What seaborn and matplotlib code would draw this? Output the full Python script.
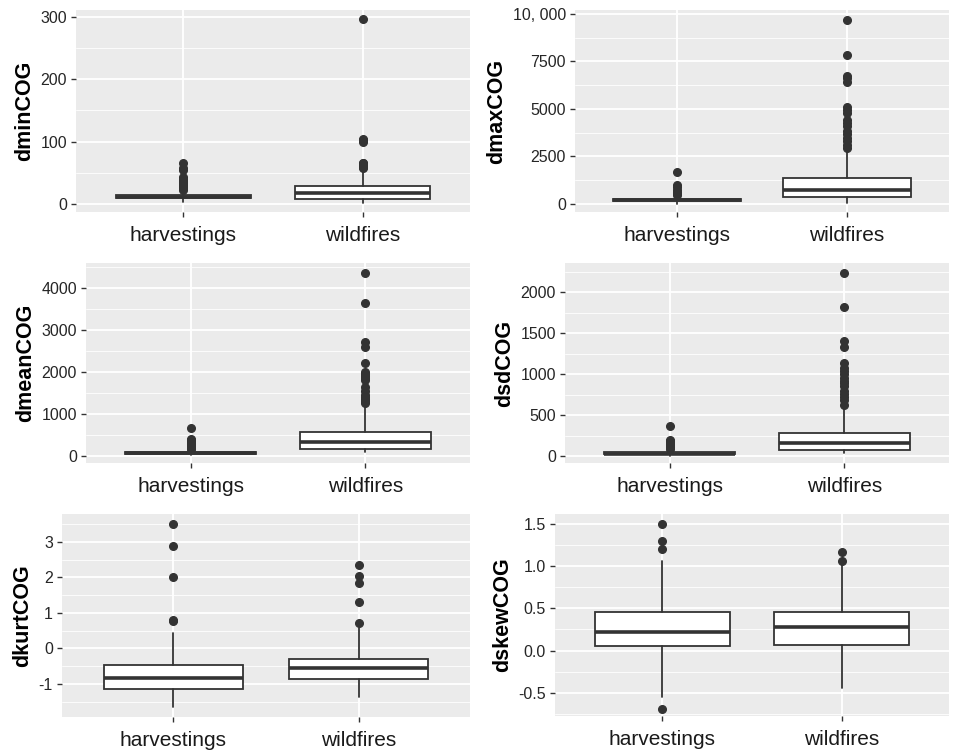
import numpy as np
import seaborn as sns
import matplotlib
matplotlib.use("Agg")
import matplotlib.pyplot as plt
from matplotlib.ticker import FixedLocator

# ---- data (box statistics per variable, [harvestings, wildfires]) ----
groups = ["harvestings", "wildfires"]
variables = ["dminCOG", "dmaxCOG", "dmeanCOG", "dsdCOG", "dkurtCOG", "dskewCOG"]

whis_lo = [[3, 1], [20, 30], [5, 95], [2, 40], [-1.65, -1.38], [-0.555, -0.45]]
q1 = [[9, 8], [150, 350], [40, 152], [20, 70], [-1.14, -0.87], [0.055, 0.066]]
median = [[12, 18], [210, 735], [60, 333], [30, 162], [-0.845, -0.56], [0.22, 0.284]]
q3 = [[15, 29], [260, 1350], [80, 571], [45, 284], [-0.48, -0.29], [0.455, 0.455]]
whis_hi = [[20, 55], [420, 2850], [140, 1167], [80, 600], [0.44, 0.56], [1.06, 1.02]]

fliers = [
    [[23, 25, 27, 29, 31, 33, 35, 37, 40, 43, 55, 57, 66],
     [57, 59, 61, 63, 65, 66, 100, 103, 105, 296]],
    [[500, 560, 650, 750, 900, 1000, 1700],
     [2950, 3100, 3300, 3450, 3700, 3850, 4100, 4250, 4400, 4800, 4950, 5100,
      6400, 6650, 6750, 7850, 9700]],
    [[150, 190, 220, 250, 280, 310, 340, 370, 400, 650],
     [1250, 1300, 1350, 1400, 1450, 1550, 1650, 1800, 1850, 1900, 1950, 2000,
      2200, 2600, 2700, 3650, 4350]],
    [[90, 110, 130, 150, 170, 185, 200, 365],
     [620, 680, 720, 760, 800, 850, 890, 920, 950, 1000, 1040, 1080, 1140,
      1330, 1410, 1820, 2240]],
    [[0.76, 0.8, 2.0, 2.88, 3.5],
     [0.7, 1.3, 1.85, 2.05, 2.35]],
    [[-0.69, 1.2, 1.3, 1.5],
     [1.06, 1.17]],
]

y_ticks = [[0, 100, 200, 300], [0, 2500, 5000, 7500, 10000], [0, 1000, 2000, 3000, 4000],
           [0, 500, 1000, 1500, 2000], [-1, 0, 1, 2, 3], [-0.5, 0.0, 0.5, 1.0, 1.5]]
y_tick_labels = [["0", "100", "200", "300"], ["0", "2500", "5000", "7500", "10, 000"],
                 ["0", "1000", "2000", "3000", "4000"], ["0", "500", "1000", "1500", "2000"],
                 ["-1", "0", "1", "2", "3"], ["-0.5", "0.0", "0.5", "1.0", "1.5"]]
y_lims = [(-12.8, 311), (-421, 10210), (-174, 4595), (-85, 2357), (-1.93, 3.78), (-0.777, 1.62)]

# panel rectangles in pixels (x0, y0, x1, y1) measured on the 958x751 reference
panel_px = [(76, 10, 470, 212), (575, 10, 949, 212),
            (86, 263, 470, 463), (565, 263, 949, 463),
            (62, 514, 470, 717), (555, 514, 949, 716)]

W, H = 958, 751

sns.set_theme(style="darkgrid", rc={
    "axes.facecolor": "#EBEBEB",
    "grid.color": "white",
    "figure.facecolor": "white",
})
plt.rcParams["font.family"] = ["Liberation Sans", "DejaVu Sans"]

fig = plt.figure(figsize=(W / 100, H / 100), dpi=100)
dark = "#333333"

for i, var in enumerate(variables):
    x0, y0, x1, y1 = panel_px[i]
    ax = fig.add_axes([x0 / W, 1 - y1 / H, (x1 - x0) / W, (y1 - y0) / H])

    stats = []
    for g in range(len(groups)):
        stats.append(dict(med=median[i][g], q1=q1[i][g], q3=q3[i][g],
                          whislo=whis_lo[i][g], whishi=whis_hi[i][g],
                          fliers=fliers[i][g], label=groups[g]))
    ax.bxp(stats, positions=[1, 2], widths=0.75, showcaps=False, patch_artist=True,
           boxprops=dict(facecolor="white", edgecolor=dark, linewidth=1.3),
           medianprops=dict(color=dark, linewidth=2.6),
           whiskerprops=dict(color=dark, linewidth=1.3),
           flierprops=dict(marker="o", markerfacecolor=dark, markeredgecolor=dark,
                           markersize=5.5, linestyle="none"),
           zorder=3)

    ax.set_xlim(0.4, 2.6)
    ax.set_ylim(*y_lims[i])
    ticks = y_ticks[i]
    ax.set_yticks(ticks)
    ax.set_yticklabels(y_tick_labels[i])
    step = ticks[1] - ticks[0]
    minors = np.arange(ticks[0] - step / 2, ticks[-1] + step, step)
    ax.yaxis.set_minor_locator(FixedLocator(minors))
    ax.set_xticks([1, 2])
    ax.set_xticklabels(groups)

    ax.grid(which="major", color="white", linewidth=1.3)
    ax.grid(which="minor", axis="y", color="white", linewidth=0.6)
    ax.set_axisbelow(True)
    for s in ax.spines.values():
        s.set_visible(False)

    ax.tick_params(axis="both", which="major", length=3.5, width=1, color=dark,
                   bottom=True, left=True)
    ax.tick_params(axis="y", which="major", labelsize=11.5, labelcolor="#262626", pad=3)
    ax.tick_params(axis="x", which="major", labelsize=15, labelcolor="#1a1a1a", pad=6.5)
    ax.tick_params(which="minor", length=0)
    ax.set_xlabel("")
    ax.set_ylabel(var, fontsize=15.5, fontweight="bold", color="black", labelpad=4)

fig.savefig("out.png", dpi=100)
